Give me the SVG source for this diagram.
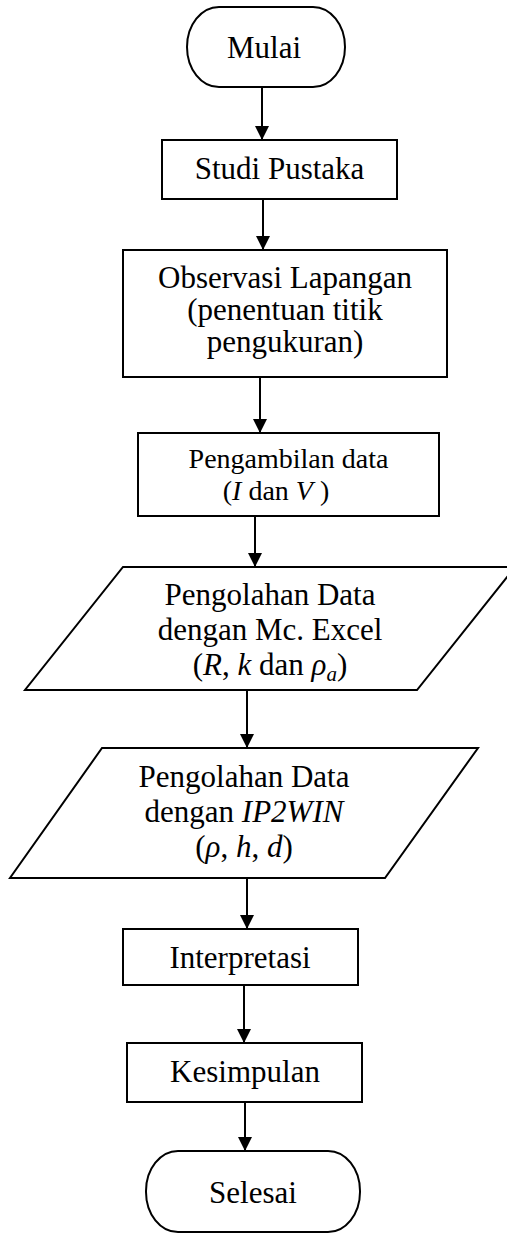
<svg xmlns="http://www.w3.org/2000/svg" width="507" height="1236" viewBox="0 0 507 1236">
<style>
.s{fill:#fff;stroke:#000;stroke-width:2}
.t{font-family:"Liberation Serif","DejaVu Serif",serif;font-size:31px;fill:#000;text-anchor:middle}
.sm{font-size:28px}
.i{font-style:italic}
.c{stroke:#000;stroke-width:2;fill:none;marker-end:url(#ah)}
</style>
<defs>
<marker id="ah" viewBox="0 0 14 14" refX="14" refY="7" markerWidth="14" markerHeight="14" markerUnits="userSpaceOnUse" orient="auto">
<path d="M0,0 L14,7 L0,14 Z" fill="#000"/>
</marker>
</defs>
<rect width="507" height="1236" fill="#fff"/>
<g id="connectors">
<line class="c" x1="262" y1="88" x2="262" y2="140"/>
<line class="c" x1="263" y1="200" x2="263" y2="250"/>
<line class="c" x1="260" y1="378" x2="260" y2="433"/>
<line class="c" x1="255" y1="517" x2="255" y2="567"/>
<line class="c" x1="247" y1="691" x2="247" y2="748"/>
<line class="c" x1="247" y1="879" x2="247" y2="929"/>
<line class="c" x1="244" y1="986" x2="244" y2="1043"/>
<line class="c" x1="245" y1="1103" x2="245" y2="1151"/>
</g>
<g id="mulai">
<rect class="s" x="187" y="7" width="158" height="80" rx="32" ry="40"/>
<text class="t" x="264" y="58">Mulai</text>
</g>
<g id="studi">
<rect class="s" x="162" y="140" width="235" height="59"/>
<text class="t" x="279.5" y="179">Studi Pustaka</text>
</g>
<g id="observasi">
<rect class="s" x="123" y="250" width="324" height="127"/>
<text class="t" x="285" y="288">Observasi Lapangan</text>
<text class="t" x="285" y="320">(penentuan titik</text>
<text class="t" x="285" y="352">pengukuran)</text>
</g>
<g id="pengambilan">
<rect class="s" x="138" y="433" width="301" height="83"/>
<text class="t sm" x="288.5" y="468">Pengambilan data</text>
<text class="t sm" x="276" y="500">(<tspan class="i">I</tspan> dan <tspan class="i">V</tspan> )</text>
</g>
<g id="excel">
<polygon class="s" points="123,567 515,567 417,690 25,690"/>
<text class="t" x="270" y="605">Pengolahan Data</text>
<text class="t" x="270" y="640">dengan Mc. Excel</text>
<text class="t" x="270" y="675">(<tspan class="i">R</tspan>, <tspan class="i">k</tspan> dan <tspan class="i">ρ</tspan><tspan class="i" font-size="21" dy="6">a</tspan><tspan dy="-6">)</tspan></text>
</g>
<g id="ip2win">
<polygon class="s" points="102,748 478,748 385,878 10,878"/>
<text class="t" x="244" y="787">Pengolahan Data</text>
<text class="t" x="244" y="822">dengan <tspan class="i">IP2WIN</tspan></text>
<text class="t" x="244" y="857">(<tspan class="i">ρ</tspan>, <tspan class="i">h</tspan>, <tspan class="i">d</tspan>)</text>
</g>
<g id="interpretasi">
<rect class="s" x="123" y="929" width="235" height="56"/>
<text class="t" x="240" y="968">Interpretasi</text>
</g>
<g id="kesimpulan">
<rect class="s" x="127" y="1043" width="235" height="59"/>
<text class="t" x="245" y="1082">Kesimpulan</text>
</g>
<g id="selesai">
<rect class="s" x="146" y="1151" width="214" height="81" rx="32" ry="40"/>
<text class="t" x="253" y="1203">Selesai</text>
</g>
</svg>
